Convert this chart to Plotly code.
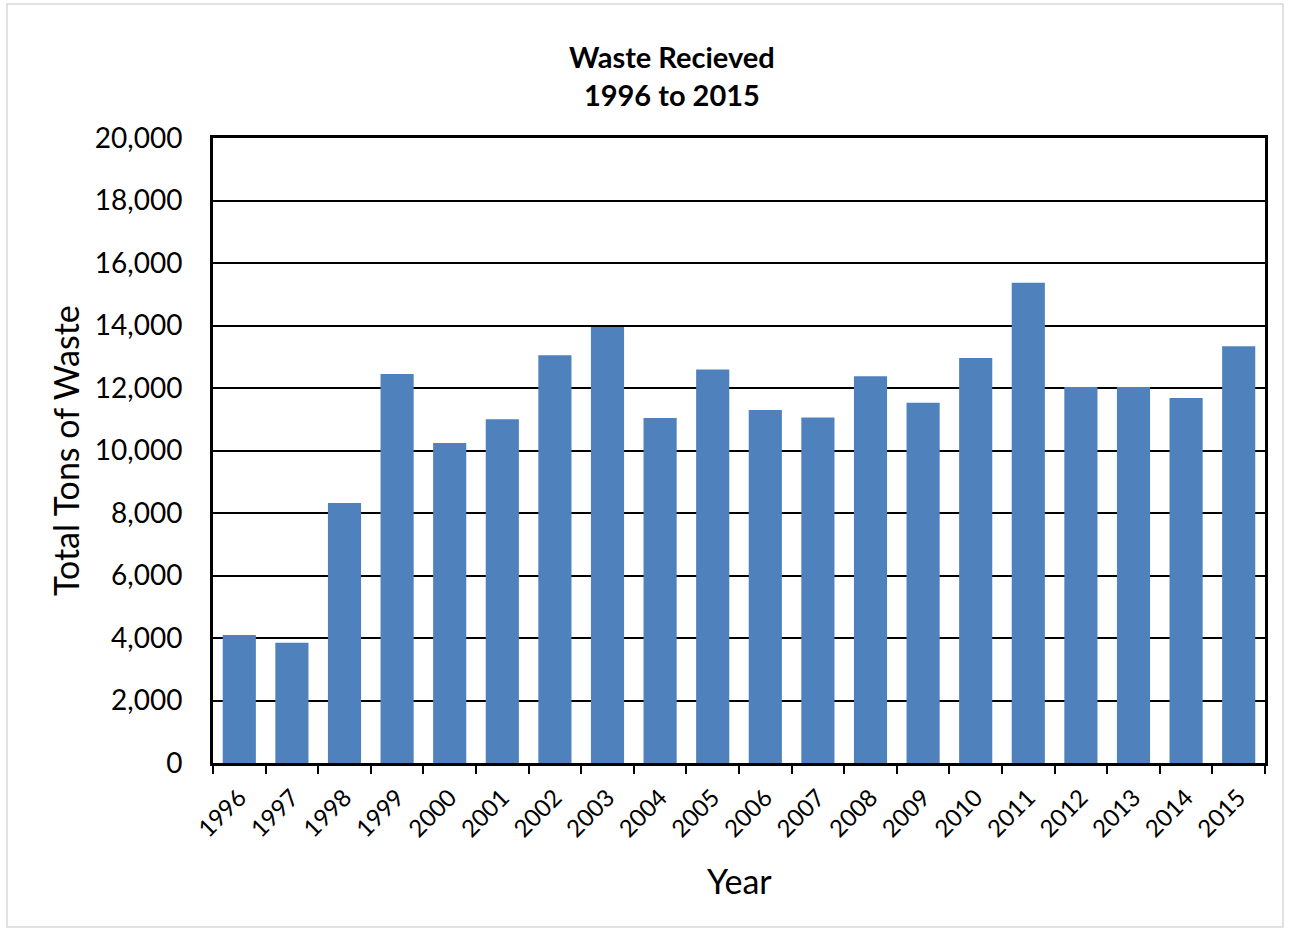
import plotly.graph_objects as go

years = ["1996", "1997", "1998", "1999", "2000", "2001", "2002", "2003", "2004", "2005",
         "2006", "2007", "2008", "2009", "2010", "2011", "2012", "2013", "2014", "2015"]
tons = [4100, 3850, 8320, 12450, 10240, 11000, 13050, 13950, 11040, 12590,
        11300, 11060, 12380, 11530, 12960, 15370, 12030, 12030, 11680, 13340]
y_ticks = [0, 2000, 4000, 6000, 8000, 10000, 12000, 14000, 16000, 18000, 20000]

FONT = "Lato"
W, H = 1291, 932
L, R, T, B = 213, 26, 138, 169
pw, ph = W - L - R, H - T - B

def px(x):
    return (x - L) / pw

def py(y):
    return (H - B - y) / ph

fig = go.Figure(go.Bar(x=years, y=tons, marker=dict(color="#4F81BD", line=dict(width=0))))

fig.update_layout(
    width=W, height=H,
    margin=dict(l=L, r=R, t=T, b=B),
    paper_bgcolor="white", plot_bgcolor="white",
    bargap=0.37, showlegend=False,
    font=dict(family=FONT, color="black"),
    xaxis=dict(
        type="category", tickson="boundaries", ticks="outside", ticklen=8,
        tickwidth=2, tickcolor="black", tickangle=-45,
        tickfont=dict(size=24, family=FONT), ticklabelstandoff=8,
        showline=True, linecolor="black", linewidth=3, mirror=True,
        showgrid=False,
    ),
    yaxis=dict(
        range=[0, 20000], tickvals=y_ticks, tickformat=",d",
        tickfont=dict(size=28, family=FONT), ticklabelstandoff=22,
        showline=True, linecolor="black", linewidth=3, mirror=True,
        showgrid=True, gridcolor="black", gridwidth=1.5, zeroline=False,
        ticks="", ticklen=0,
    ),
    annotations=[
        dict(text="<b>Waste Recieved</b><br><b>1996 to 2015</b>",
             xref="paper", yref="paper", x=px(672), y=py(75), xanchor="center", yanchor="middle",
             showarrow=False, font=dict(size=29, family=FONT), align="center"),
        dict(text="Year", xref="paper", yref="paper", x=px(739), y=py(880),
             xanchor="center", yanchor="middle", showarrow=False,
             font=dict(size=34, family=FONT)),
        dict(text="Total Tons of Waste", xref="paper", yref="paper", x=px(65), y=py(451),
             xanchor="center", yanchor="middle", showarrow=False, textangle=-90,
             font=dict(size=34, family=FONT)),
    ],
    shapes=[dict(
        type="rect", xref="paper", yref="paper",
        x0=px(7), x1=px(1283), y0=py(927), y1=py(4),
        line=dict(color="#D9D9D9", width=1.5), layer="below",
    )],
)

fig.write_html("out.html")
